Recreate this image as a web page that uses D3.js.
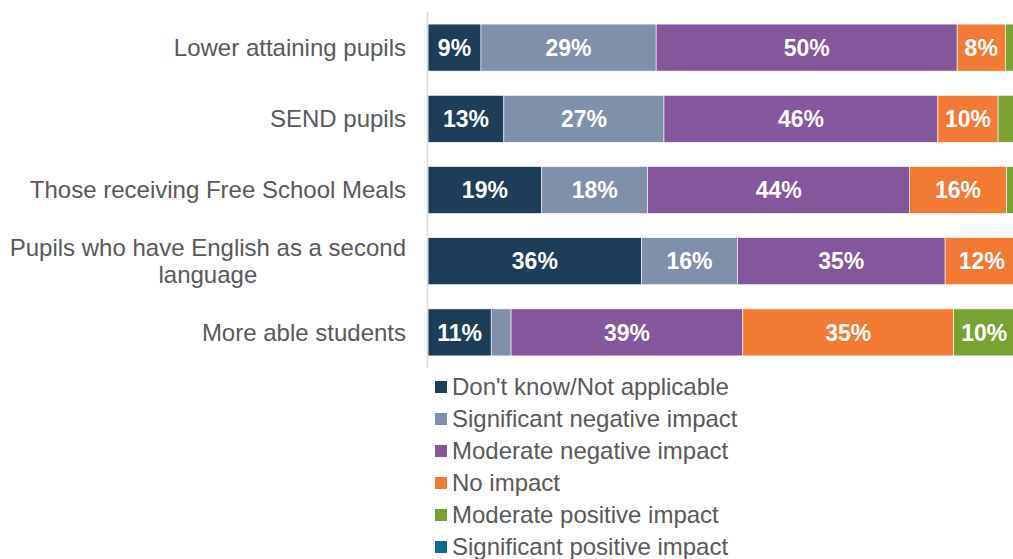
<!DOCTYPE html>
<html>
<head>
<meta charset="utf-8">
<script src="https://cdn.jsdelivr.net/npm/d3@7"></script>
<style>
  body { margin: 0; background: #fff; }
  svg { display: block; font-family: "Liberation Sans", Arial, sans-serif; }
</style>
</head>
<body>
<div class="chart"></div>
<script>
/////////////////////
// DATA //
/////////////////////

var groups = [
    ['Lower attaining pupils'],
    ['SEND pupils'],
    ['Those receiving Free School Meals'],
    ['Pupils who have English as a second', 'language'],
    ['More able students']
];

var seriesNames = [
    "Don't know/Not applicable",
    'Significant negative impact',
    'Moderate negative impact',
    'No impact',
    'Moderate positive impact',
    'Significant positive impact'
];

var seriesColors = ['#1e3d58', '#8090aa', '#84569c', '#f27a35', '#7aa232', '#0f6b94'];

// one array per series, one value per group
var dontKnow    = [8.8, 12.6, 18.9, 35.5, 10.5];
var sigNegative = [29.1, 26.6, 17.6, 15.9, 3.3];
var modNegative = [50.0, 45.5, 43.5, 34.5, 38.5];
var noImpact    = [8.0, 10.0, 16.1, 12.2, 35.0];
var modPositive = [3.4, 4.3, 3.0, 1.4, 10.2];
var sigPositive = [0.7, 1.0, 0.9, 0.5, 2.5];

var seriesValues = [dontKnow, sigNegative, modNegative, noImpact, modPositive, sigPositive];

////////////////
// DIMENSIONS //
////////////////

var w = 1013, h = 559;

var svg = d3.select('.chart')
    .append('svg')
    .attr('width', w)
    .attr('height', h);

var xScale = d3.scaleLinear()
    .domain([0, 100])
    .range([428, 1030]);

var yScale = d3.scaleBand()
    .domain(d3.range(groups.length))
    .range([12, 368])
    .paddingInner(0.34)
    .paddingOuter(0.17);

// stack the rows
var rows = groups.map(function(g, i) {
    var o = { i: i };
    seriesNames.forEach(function(s, j) { o[s] = seriesValues[j][i]; });
    return o;
});

var stacked = d3.stack().keys(seriesNames)(rows);

//////////
// BARS //
//////////

var layer = svg.selectAll('.layer')
    .data(stacked)
    .enter()
    .append('g')
    .attr('class', 'layer')
    .attr('fill', function(d, j) { return seriesColors[j]; });

layer.selectAll('rect')
    .data(function(d) { return d; })
    .enter()
    .append('rect')
    .attr('x', function(d) { return xScale(d[0]); })
    .attr('y', function(d) { return yScale(d.data.i); })
    .attr('width', function(d) { return xScale(d[1]) - xScale(d[0]); })
    .attr('height', yScale.bandwidth())
    .attr('stroke', '#fff')
    .attr('stroke-width', 0.6);

layer.selectAll('text')
    .data(function(d) { return d.filter(function(p) { return p[1] - p[0] >= 5; }); })
    .enter()
    .append('text')
    .attr('x', function(d) { return (xScale(d[0]) + xScale(d[1])) / 2; })
    .attr('y', function(d) { return yScale(d.data.i) + yScale.bandwidth() / 2; })
    .attr('dy', '0.36em')
    .attr('text-anchor', 'middle')
    .attr('fill', '#fff')
    .attr('font-weight', 'bold')
    .attr('font-size', 23)
    .text(function(d) { return Math.round(d[1] - d[0]) + '%'; });

//////////
// AXIS //
//////////

svg.append('line')
    .attr('x1', xScale(0) - 0.5)
    .attr('x2', xScale(0) - 0.5)
    .attr('y1', 12)
    .attr('y2', 368)
    .attr('stroke', '#d9d9d9')
    .attr('stroke-width', 1.5);

var cats = svg.selectAll('.cat')
    .data(groups)
    .enter()
    .append('text')
    .attr('class', 'cat')
    .attr('fill', '#595959')
    .attr('font-size', 24)
    .attr('text-anchor', 'middle');

cats.each(function(lines, i) {
    var el = d3.select(this);
    var cy = yScale(i) + yScale.bandwidth() / 2;
    var lh = 27;
    lines.forEach(function(l, k) {
        el.append('tspan')
            .attr('y', cy + (k - (lines.length - 1) / 2) * lh)
            .attr('dy', '0.34em')
            .text(l);
    });
    // right align the block on its widest line
    var wmax = d3.max(el.selectAll('tspan').nodes(), function(n) { return n.getComputedTextLength(); });
    el.selectAll('tspan').attr('x', 406 - wmax / 2);
});

////////////
// LEGEND //
////////////

var legend = svg.selectAll('.legend')
    .data(seriesNames)
    .enter()
    .append('g')
    .attr('class', 'legend')
    .attr('transform', function(d, j) { return 'translate(435,' + (387 + j * 32) + ')'; });

legend.append('rect')
    .attr('x', 0)
    .attr('y', -6)
    .attr('width', 12)
    .attr('height', 12)
    .attr('fill', function(d, j) { return seriesColors[j]; });

legend.append('text')
    .attr('x', 17)
    .attr('dy', '0.32em')
    .attr('fill', '#595959')
    .attr('font-size', 24)
    .text(function(d) { return d; });
</script>
</body>
</html>
